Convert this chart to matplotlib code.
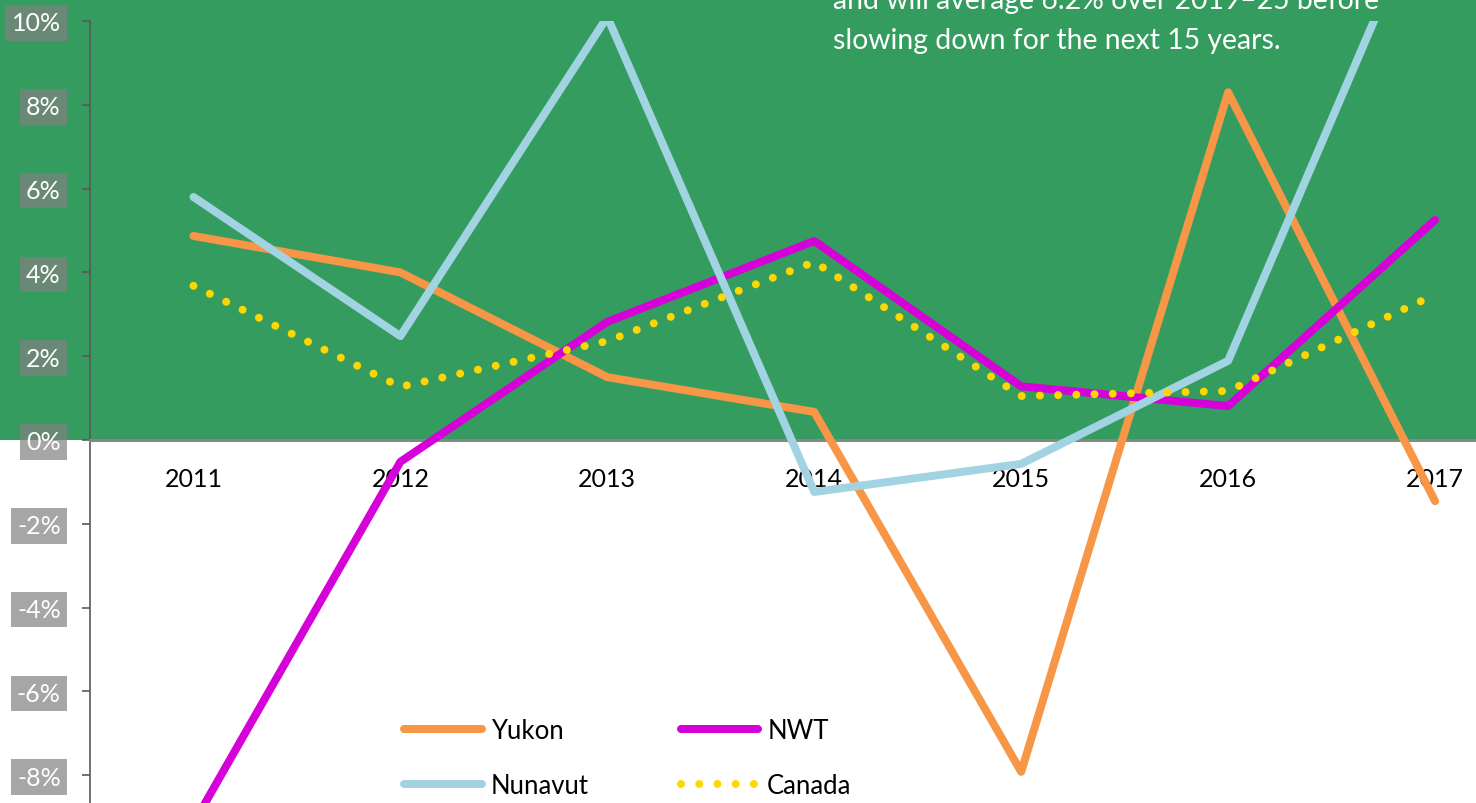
import matplotlib.pyplot as plt
import matplotlib.transforms as mtransforms
from matplotlib.patches import Rectangle

plt.rcParams['font.family'] = ['Lato', 'DejaVu Sans']

years = ['2011', '2012', '2013', '2014', '2015', '2016', '2017']
yukon = [4.87, 4.0, 1.5, 0.67, -7.92, 8.3, -1.46]
nwt = [-9.15, -0.52, 2.82, 4.75, 1.28, 0.81, 5.25]
nunavut = [5.8, 2.48, 10.1, -1.24, -0.57, 1.89, 13.4]
canada = [3.68, 1.27, 2.36, 4.25, 1.05, 1.17, 3.47]
y_ticks = [-10, -8, -6, -4, -2, 0, 2, 4, 6, 8, 10]
note_lines = ["and will average 6.2% over 2019\u201325 before",
              "slowing down for the next 15 years."]

W, H = 1476, 804
fig = plt.figure(figsize=(W / 100, H / 100), dpi=100)
fig.patch.set_facecolor('white')

# axes runs past the right and bottom edges of the figure (cropped chart)
left, right, top, bottom = 90, 1538.5, 22, 860
ax = fig.add_axes([left / W, 1 - bottom / H, (right - left) / W, (bottom - top) / H])
ax.set_facecolor('none')
ax.set_zorder(2)

x = list(range(len(years)))
lw = 5.75
l_yuk, = ax.plot(x, yukon, color='#f79646', lw=lw, solid_capstyle='round', solid_joinstyle='round', label='Yukon', zorder=3)
l_nwt, = ax.plot(x, nwt, color='#d600d8', lw=lw, solid_capstyle='round', solid_joinstyle='round', label='NWT', zorder=3)
l_nun, = ax.plot(x, nunavut, color='#a2d3e2', lw=lw, solid_capstyle='round', solid_joinstyle='round', label='Nunavut', zorder=3)
l_can, = ax.plot(x, canada, color='#ffd700', lw=lw, linestyle=(0, (0.001, 2.28)), dash_capstyle='round', label='Canada', zorder=4)

ax.set_xlim(-0.5, 6.5)
ax.set_ylim(-10, 10)

# green band above zero across the whole figure width
trans = mtransforms.blended_transform_factory(fig.transFigure, ax.transData)
fig.add_artist(Rectangle((0, 0), 1, 100, transform=trans, facecolor='#359c5f',
                         edgecolor='none', zorder=0))

ax.spines['top'].set_visible(False)
ax.spines['right'].set_visible(False)
ax.spines['left'].set_color('#595959')
ax.spines['left'].set_linewidth(1.2)
ax.spines['bottom'].set_position(('data', 0))
ax.spines['bottom'].set_color('#868686')
ax.spines['bottom'].set_linewidth(2.2)

ax.set_xticks(x)
ax.set_xticklabels(years, fontsize=18, color='black')
ax.tick_params(axis='x', length=0, pad=19.5)

ax.set_yticks(y_ticks)
ax.set_yticklabels([f'{v}%' for v in y_ticks], fontsize=18, color='white')
ax.tick_params(axis='y', length=6, width=1.2, color='#595959', direction='out', pad=15)
for lab in ax.get_yticklabels():
    lab.set_bbox(dict(facecolor='#808080', alpha=0.7, edgecolor='none', pad=4.5))

for i, line in enumerate(note_lines):
    fig.text(833 / W, 1 - (9 + 40 * i) / H, line, color='white', fontsize=20.4,
             va='baseline', ha='left')

# column-major order so rows read Yukon/NWT, Nunavut/Canada
ax.legend([l_yuk, l_nun, l_nwt, l_can], ['Yukon', 'Nunavut', 'NWT', 'Canada'],
          loc='center', bbox_to_anchor=(628 / W, 1 - 759 / H), bbox_transform=fig.transFigure,
          ncol=2, frameon=False, fontsize=18.5, handlelength=3.0, handletextpad=0.35,
          columnspacing=3.6, labelspacing=1.15)

fig.savefig('out.png', dpi=100)
